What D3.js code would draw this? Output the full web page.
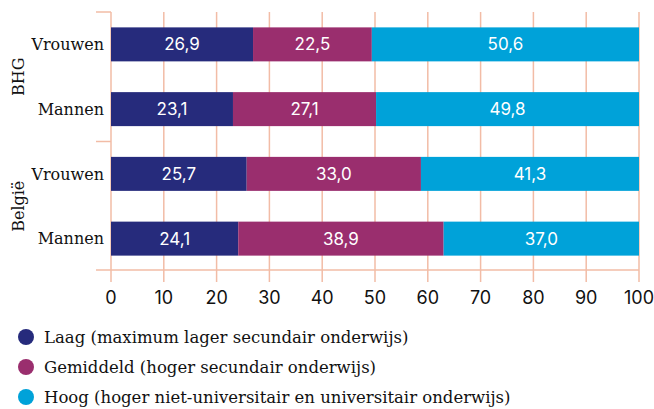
<!DOCTYPE html>
<html>
<head>
<meta charset="utf-8">
<script src="https://cdn.jsdelivr.net/npm/d3@7"></script>
<style>
  body { margin: 0; background: #fff; }
  .serif { font-family: "DejaVu Serif", serif; fill: #111; }
  .sans { font-family: "Inter", "Open Sans", sans-serif; }
</style>
</head>
<body>
<svg id="chart" width="654" height="409"></svg>
<script>
const groups = ['BHG', 'België'];
const rows = [
  { group: 'BHG', label: 'Vrouwen' },
  { group: 'BHG', label: 'Mannen' },
  { group: 'België', label: 'Vrouwen' },
  { group: 'België', label: 'Mannen' },
];
const laag = [26.9, 23.1, 25.7, 24.1];
const gemiddeld = [22.5, 27.1, 33.0, 38.9];
const hoog = [50.6, 49.8, 41.3, 37.0];
const seriesNames = [
  'Laag (maximum lager secundair onderwijs)',
  'Gemiddeld (hoger secundair onderwijs)',
  'Hoog (hoger niet-universitair en universitair onderwijs)',
];
const colors = ['#262b7c', '#9a2e6e', '#00a2d9'];
const xTicks = [0, 10, 20, 30, 40, 50, 60, 70, 80, 90, 100];

const gridColor = '#f2bca6';
const svg = d3.select('#chart');

const x = d3.scaleLinear().domain([0, 100]).range([111, 639]);
const y = d3.scaleBand()
  .domain(d3.range(rows.length))
  .range([12, 271])
  .paddingInner(0.475)
  .paddingOuter(0.2375);

const gridTop = 12, gridBottom = 282, axisY = 270;

// vertical gridlines
svg.append('g')
  .selectAll('line')
  .data(xTicks)
  .join('line')
  .attr('x1', d => x(d)).attr('x2', d => x(d))
  .attr('y1', gridTop).attr('y2', gridBottom)
  .attr('stroke', gridColor)
  .attr('stroke-width', 1.5);

// group brackets on the left
const bracketYs = [gridTop, (gridTop + axisY) / 2 + 0.5, axisY];
svg.append('g')
  .selectAll('line')
  .data(bracketYs)
  .join('line')
  .attr('x1', 96).attr('x2', (d, i) => i === 2 ? x(100) : x(0))
  .attr('y1', d => d).attr('y2', d => d)
  .attr('stroke', gridColor)
  .attr('stroke-width', 1.5);

// stacked bars
const table = rows.map((r, i) => ({ i, laag: laag[i], gemiddeld: gemiddeld[i], hoog: hoog[i] }));
const stack = d3.stack().keys(['laag', 'gemiddeld', 'hoog']);
const layers = stack(table);

const layerG = svg.append('g')
  .selectAll('g')
  .data(layers)
  .join('g')
  .attr('fill', (d, i) => colors[i]);

layerG.selectAll('rect')
  .data(d => d)
  .join('rect')
  .attr('x', d => x(d[0]))
  .attr('width', d => x(d[1]) - x(d[0]))
  .attr('y', d => y(d.data.i))
  .attr('height', y.bandwidth());

layerG.selectAll('text')
  .data(d => d)
  .join('text')
  .attr('class', 'sans')
  .attr('x', d => (x(d[0]) + x(d[1])) / 2)
  .attr('y', d => y(d.data.i) + y.bandwidth() / 2)
  .attr('dy', '0.36em')
  .attr('text-anchor', 'middle')
  .attr('fill', '#fff')
  .attr('font-size', 17)
  .text(d => d3.format('.1f')(d[1] - d[0]).replace('.', ','));

// row labels
svg.append('g')
  .selectAll('text')
  .data(rows)
  .join('text')
  .attr('class', 'serif')
  .attr('x', 104)
  .attr('y', (d, i) => y(i) + y.bandwidth() / 2)
  .attr('dy', '0.36em')
  .attr('text-anchor', 'end')
  .attr('font-size', 16)
  .text(d => d.label);

// group labels (rotated)
svg.append('g')
  .selectAll('text')
  .data(groups)
  .join('text')
  .attr('class', 'serif')
  .attr('transform', g => {
    const idx = rows.map((r, i) => r.group === g ? i : -1).filter(i => i >= 0);
    const cy = d3.mean(idx, i => y(i) + y.bandwidth() / 2);
    return `translate(24,${cy}) rotate(-90)`;
  })
  .attr('text-anchor', 'middle')
  .attr('font-size', 16)
  .text(d => d);

// x tick labels
svg.append('g')
  .selectAll('text')
  .data(xTicks)
  .join('text')
  .attr('class', 'sans')
  .attr('x', d => x(d))
  .attr('y', 304)
  .attr('text-anchor', 'middle')
  .attr('fill', '#111')
  .attr('font-size', 18)
  .text(d => d);

// legend
const legend = svg.append('g')
  .selectAll('g')
  .data(seriesNames)
  .join('g')
  .attr('transform', (d, i) => `translate(26,${337 + i * 30})`);
legend.append('circle')
  .attr('r', 8)
  .attr('fill', (d, i) => colors[i]);
legend.append('text')
  .attr('class', 'serif')
  .attr('x', 18)
  .attr('dy', '0.36em')
  .attr('font-size', 16.5)
  .text(d => d);
</script>
</body>
</html>
